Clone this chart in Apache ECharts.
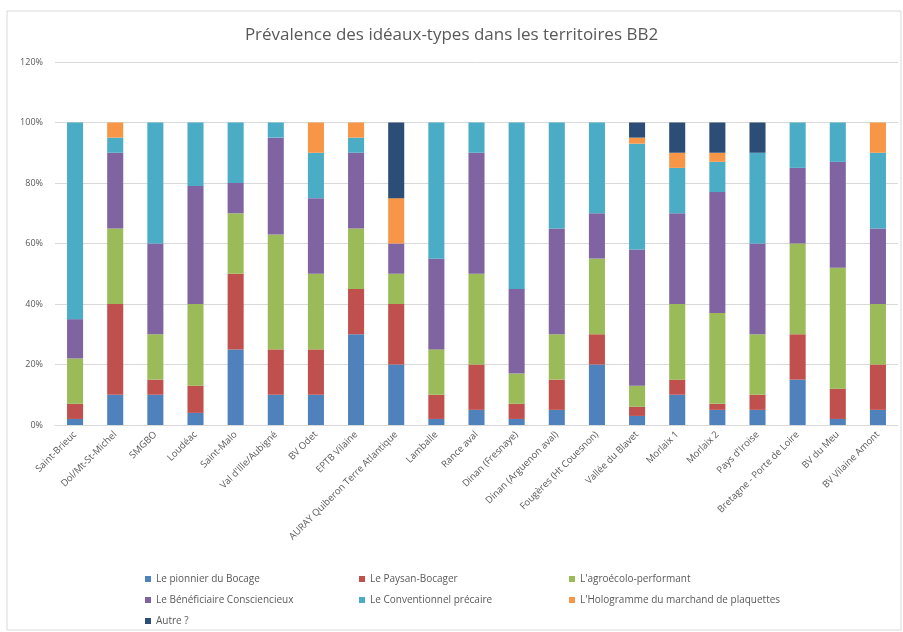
<!DOCTYPE html>
<html><head><meta charset="utf-8">
<script src="https://cdn.jsdelivr.net/npm/echarts@6/dist/echarts.min.js"></script>
<style>html,body{margin:0;padding:0;background:#fff}#c{width:903px;height:632px}</style>
</head><body><div id="c"></div>
<script>
const categories = ["Saint-Brieuc","Dol/Mt-St-Michel","SMGBO","Loudéac","Saint-Malo","Val d'Ille/Aubigné","BV Odet","EPTB Vilaine","AURAY Quiberon Terre Atlantique","Lamballe","Rance aval","Dinan (Fresnaye)","Dinan (Arguenon aval)","Fougères (Ht Couesnon)","Vallée du Blavet","Morlaix 1","Morlaix 2","Pays d'Iroise","Bretagne - Porte de Loire","BV du Meu","BV Vilaine Amont"];
const seriesNames = ["Le pionnier du Bocage","Le Paysan-Bocager","L'agroécolo-performant","Le Bénéficiaire Consciencieux","Le Conventionnel précaire","L'Hologramme du marchand de plaquettes","Autre ?"];
const pionnier      = [2,10,10,4,25,10,10,30,20,2,5,2,5,20,3,10,5,5,15,2,5];
const paysan        = [5,30,5,9,25,15,15,15,20,8,15,5,10,10,3,5,2,5,15,10,15];
const agroecolo     = [15,25,15,27,20,38,25,20,10,15,30,10,15,25,7,25,30,20,30,40,20];
const beneficiaire  = [13,25,30,39,10,32,25,25,10,30,40,28,35,15,45,30,40,30,25,35,25];
const conventionnel = [65,5,40,21,20,5,15,5,0,45,10,55,35,30,35,15,10,30,15,13,25];
const hologramme    = [0,5,0,0,0,0,10,5,15,0,0,0,0,0,2,5,3,0,0,0,10];
const autre         = [0,0,0,0,0,0,0,0,25,0,0,0,0,0,5,10,10,10,0,0,0];
const yTicks = [0,20,40,60,80,100,120];
const colors = ["#4F81BD","#C0504D","#9BBB59","#8064A2","#4BACC6","#F79646","#2C4D75"];
const values = [pionnier,paysan,agroecolo,beneficiaire,conventionnel,hologramme,autre];

const font = "'Open Sans', 'Liberation Sans', sans-serif";
const txt = '#595959';
const chart = echarts.init(document.getElementById('c'));
const legendBase = {orient:'vertical', top:569, itemWidth:6, itemHeight:6, itemGap:11, icon:'rect',
  textStyle:{color:txt, fontSize:10, fontFamily:font}};
chart.setOption({
  animation:false,
  color:colors,
  graphic:[{type:'rect', shape:{x:7,y:11,width:894,height:619}, style:{fill:'none', stroke:'#D9D9D9', lineWidth:1}, silent:true}],
  title:{text:'Prévalence des idéaux-types dans les territoires BB2', left:'center', top:22,
    textStyle:{color:txt, fontSize:17, fontWeight:'normal', fontFamily:font}},
  legend:[
    Object.assign({left:140, data:[seriesNames[0],seriesNames[3],seriesNames[6]]}, legendBase),
    Object.assign({left:354, data:[seriesNames[1],seriesNames[4]]}, legendBase),
    Object.assign({left:564, data:[seriesNames[2],seriesNames[5]]}, legendBase)
  ],
  grid:{left:55, right:5, top:62, bottom:207, containLabel:false},
  xAxis:{type:'category', data:categories,
    axisLine:{lineStyle:{color:'#D9D9D9'}}, axisTick:{show:false},
    axisLabel:{rotate:45, interval:0, color:txt, fontSize:9.5, fontFamily:font, margin:8}},
  yAxis:{type:'value', min:yTicks[0], max:yTicks[yTicks.length-1], interval:20,
    axisLine:{show:false}, axisTick:{show:false},
    axisLabel:{formatter:'{value}%', color:txt, fontSize:9, fontFamily:font, margin:12},
    splitLine:{lineStyle:{color:'#D9D9D9'}}},
  series: seriesNames.map((n,i)=>({name:n, type:'bar', stack:'s', barWidth:'40%', data:values[i]}))
});
</script></body></html>
